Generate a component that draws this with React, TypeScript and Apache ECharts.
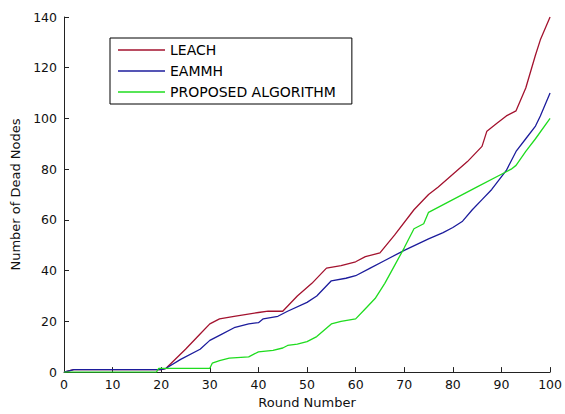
import React, { useEffect, useRef } from "react";
import * as echarts from "echarts";

const seriesNames = ["LEACH", "EAMMH", "PROPOSED ALGORITHM"];

const leachRounds = [0, 2, 20, 21, 25, 28, 30, 32, 35, 40, 42, 45, 48, 51, 54, 57, 60, 62, 65, 68, 72, 75, 77, 80, 83, 86, 87, 89, 91, 93, 95, 97, 98, 100];
const leachDead = [0, 1, 1, 1.5, 9, 15, 19, 21, 22, 23.5, 24, 24, 30, 35, 41, 42, 43.5, 45.5, 47, 54, 64, 70, 73, 78, 83, 89, 95, 98, 101, 103, 112, 125, 131, 140];

const eammhRounds = [0, 2, 20, 21, 24, 28, 30, 32, 35, 38, 40, 41, 44, 46, 50, 52, 55, 58, 60, 63, 66, 70, 75, 78, 80, 82, 84, 86, 88, 91, 93, 95, 97, 98, 100];
const eammhDead = [0, 1, 1, 1.5, 5, 9, 12.5, 14.5, 17.5, 19, 19.5, 21, 22, 24, 27.5, 30, 36, 37, 38, 41, 44, 48, 52.5, 55, 57, 59.5, 64, 68, 72, 79.5, 87, 92, 97, 101, 110];

const propRounds = [0, 19, 19.5, 30, 30.5, 32, 34, 38, 40, 43, 45, 46, 48, 50, 52, 55, 57, 60, 62, 64, 66, 68, 70, 72, 73, 74, 75, 80, 85, 90, 92, 93, 95, 97, 100];
const propDead = [0, 0, 1.5, 1.5, 3.5, 4.5, 5.5, 6, 8, 8.6, 9.5, 10.5, 11, 12, 14, 19, 20, 21, 25, 29, 35, 42, 49, 56.5, 57.5, 58.5, 63, 68, 73, 78, 80, 81.5, 87, 92, 100];

const xTicks = [0, 10, 20, 30, 40, 50, 60, 70, 80, 90, 100];
const yTicks = [0, 20, 40, 60, 80, 100, 120, 140];

const colors = ["#a3122e", "#1c1c9c", "#1fdc1f"];

const zip = (xs: number[], ys: number[]) => xs.map((x, i) => [x, ys[i]]);

export default function App() {
  const ref = useRef<HTMLDivElement>(null);
  useEffect(() => {
    if (!ref.current) return;
    const chart = echarts.init(ref.current, undefined, { renderer: "svg" });
    const font = "'DejaVu Sans', sans-serif";
    const axisCommon = {
      axisLine: { show: true, lineStyle: { color: "#222", width: 1 } },
      axisTick: { show: true, inside: true, length: 5, lineStyle: { color: "#222" } },
      splitLine: { show: false },
      axisLabel: { color: "#111", fontSize: 12.5, fontFamily: font },
      nameTextStyle: { color: "#111", fontSize: 13, fontFamily: font },
    };
    const datas = [zip(leachRounds, leachDead), zip(eammhRounds, eammhDead), zip(propRounds, propDead)];
    chart.setOption({
      animation: false,
      backgroundColor: "#fff",
      color: colors,
      grid: { left: 64, right: 12, top: 17, bottom: 39, containLabel: false },
      legend: {
        orient: "vertical",
        left: 110,
        top: 38,
        data: seriesNames,
        icon: "rect",
        itemWidth: 47,
        itemHeight: 1.3,
        itemGap: 5,
        padding: [4, 16, 4, 8],
        borderColor: "#000",
        borderWidth: 1,
        backgroundColor: "#fff",
        textStyle: { color: "#000", fontSize: 14, fontFamily: font, lineHeight: 16 },
      },
      xAxis: {
        type: "value",
        min: xTicks[0],
        max: xTicks[xTicks.length - 1],
        interval: 10,
        name: "Round Number",
        nameLocation: "middle",
        nameGap: 23,
        ...axisCommon,
        axisLabel: { ...axisCommon.axisLabel, margin: 6 },
      },
      yAxis: {
        type: "value",
        min: yTicks[0],
        max: yTicks[yTicks.length - 1],
        interval: 20,
        name: "Number of Dead Nodes",
        nameLocation: "middle",
        nameGap: 39,
        ...axisCommon,
        axisLabel: { ...axisCommon.axisLabel, margin: 7 },
      },
      series: seriesNames.map((n, i) => ({
        name: n,
        type: "line",
        data: datas[i],
        symbol: "none",
        showSymbol: false,
        lineStyle: { width: 1.3, color: colors[i] },
        itemStyle: { color: colors[i] },
      })),
    });
    return () => chart.dispose();
  }, []);
  return <div ref={ref} style={{ width: 565, height: 414, position: "absolute", left: 0, top: 0 }} />;
}
